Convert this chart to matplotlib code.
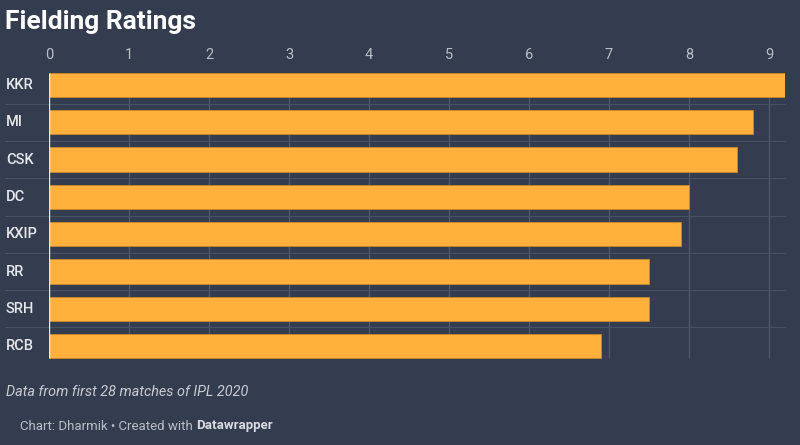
import matplotlib
matplotlib.use('Agg')
import matplotlib.pyplot as plt
import numpy as np

# data
teams = ['KKR', 'MI', 'CSK', 'DC', 'KXIP', 'RR', 'SRH', 'RCB']
ratings = [9.2, 8.8, 8.6, 8.0, 7.9, 7.5, 7.5, 6.9]
x_ticks = [0, 1, 2, 3, 4, 5, 6, 7, 8, 9]

BG = '#343d4f'
BAR = '#ffb13b'
GRID = '#535c6c'
TXT = '#d8dce2'

plt.rcParams['font.family'] = ['Roboto', 'DejaVu Sans']

fig = plt.figure(figsize=(8, 4.45), dpi=100, facecolor=BG)
ax = fig.add_axes([49/800, 1 - 364.6/445, (785 - 49)/800, (364.6 - 66.4)/445])
ax.set_facecolor(BG)

y = np.arange(len(teams))
bar_h = 0.65

# grid lines first so bars cover them
ax.vlines(x_ticks[1:], -bar_h/2, len(teams) - 1 + bar_h/2, color=GRID, lw=0.9, zorder=1)
for i in range(len(teams) - 1):
  ax.plot([-44/80, 9.2], [i + 0.5, i + 0.5], color='#4a5366', lw=0.7, clip_on=False, zorder=1)

ax.barh(y, ratings, height=bar_h, color=BAR, edgecolor='#c98a2c', linewidth=0.6, zorder=2)
ax.vlines(0, -bar_h/2, len(teams) - 1 + bar_h/2, color='#e8e8e8', lw=1.0, zorder=3)

ax.set_xlim(0, 9.2)
ax.set_ylim(len(teams) - 0.5, -0.5)
for s in ax.spines.values():
  s.set_visible(False)

ax.xaxis.tick_top()
ax.set_xticks(x_ticks)
ax.set_xticklabels([str(t) for t in x_ticks], color='#b9bec8', fontsize=10.5)
ax.tick_params(axis='x', length=0, pad=3)
ax.set_yticks([])

for i, t in enumerate(teams):
  fig.text(6/800, 1 - (85 + 37.3*i)/445, t, color='#e6e8ec', fontsize=10.5,
           fontweight='medium', ha='left', va='center')

fig.text(5/800, 1 - 22/445, 'Fielding Ratings', color='white', fontsize=19,
         fontweight='bold', ha='left', va='center')
fig.text(6/800, 1 - 392/445, 'Data from first 28 matches of IPL 2020', color='#c8ccd3',
         fontsize=10.4, style='italic', ha='left', va='center')
t1 = fig.text(20/800, 1 - 426/445, 'Chart: Dharmik \u2022 Created with ', color='#b9bec8',
              fontsize=9.5, ha='left', va='center')
fig.canvas.draw()
bb = t1.get_window_extent()
fig.text(bb.x1/800, 1 - 426/445, 'Datawrapper', color='#d8dce2', fontsize=9.5,
         fontweight='bold', ha='left', va='center')

fig.savefig('out.png', dpi=100, facecolor=BG)
